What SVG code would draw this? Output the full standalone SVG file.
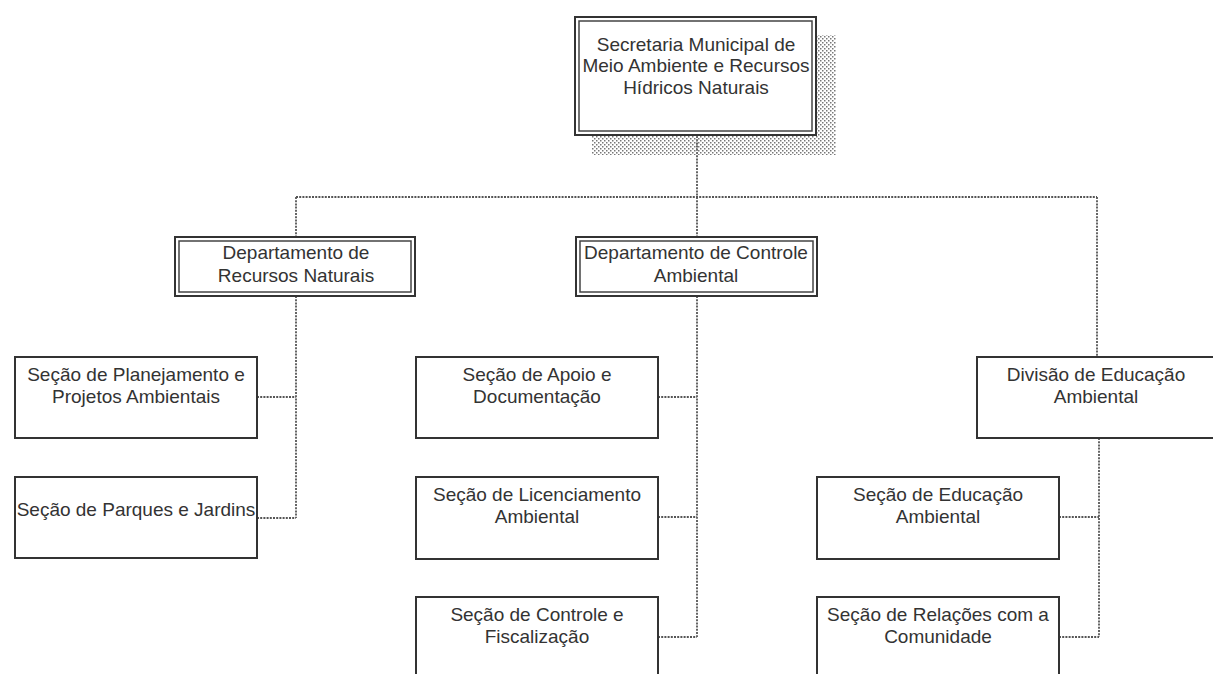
<svg xmlns="http://www.w3.org/2000/svg" width="1213" height="674" viewBox="0 0 1213 674">
  <defs>
    <pattern id="dots" width="4" height="4" patternUnits="userSpaceOnUse">
      <rect x="0" y="0" width="1.5" height="1.5" fill="#777"/>
      <rect x="2" y="2" width="1.5" height="1.5" fill="#777"/>
    </pattern>
  </defs>
  <style>
    .box { fill: #fff; stroke: #333; stroke-width: 2; }
    .inner { fill: none; stroke: #444; stroke-width: 1.5; }
    .link { fill: none; stroke: #555; stroke-width: 1.8; stroke-dasharray: 2 1.2; }
    text { font-family: "Liberation Sans", Arial, sans-serif; font-size: 19px; fill: #333; text-anchor: middle; }
  </style>
  <rect width="1213" height="674" fill="#fff"/>

  <!-- connectors -->
  <g id="connectors">
    <path class="link" d="M697,136 V197 M296,197 H1097 M296,197 V237 M697,197 V237 M1097,197 V357"/>
    <path class="link" d="M296,296 V518 M257,397 H296 M257,518 H296"/>
    <path class="link" d="M697,296 V637 M658,397 H697 M658,517 H697 M658,637 H697"/>
    <path class="link" d="M1099,438 V637 M1059,517 H1099 M1059,637 H1099"/>
  </g>

  <!-- top: secretaria, with dotted drop shadow -->
  <g id="secretaria">
    <rect x="592" y="35" width="244" height="120" fill="url(#dots)"/>
    <rect class="box" x="575" y="17" width="241" height="118"/>
    <rect class="inner" x="579" y="21" width="233" height="110"/>
    <text x="696" y="51">Secretaria Municipal de</text>
    <text x="696" y="72">Meio Ambiente e Recursos</text>
    <text x="696" y="94">Hídricos Naturais</text>
  </g>

  <!-- departments -->
  <g id="dep-recursos">
    <rect class="box" x="175" y="237" width="240" height="59"/>
    <rect class="inner" x="179" y="241" width="232" height="51"/>
    <text x="296" y="259">Departamento de</text>
    <text x="296" y="282">Recursos Naturais</text>
  </g>
  <g id="dep-controle">
    <rect class="box" x="576" y="237" width="241" height="59"/>
    <rect class="inner" x="580" y="241" width="233" height="51"/>
    <text x="696" y="259">Departamento de Controle</text>
    <text x="696" y="282">Ambiental</text>
  </g>

  <!-- sections under Recursos Naturais -->
  <g id="sec-planejamento">
    <rect class="box" x="15" y="357" width="242" height="81"/>
    <text x="136" y="381">Seção de Planejamento e</text>
    <text x="136" y="403">Projetos Ambientais</text>
  </g>
  <g id="sec-parques">
    <rect class="box" x="15" y="477" width="242" height="81"/>
    <text x="136" y="516">Seção de Parques e Jardins</text>
  </g>

  <!-- sections under Controle Ambiental -->
  <g id="sec-apoio">
    <rect class="box" x="416" y="357" width="242" height="81"/>
    <text x="537" y="381">Seção de Apoio e</text>
    <text x="537" y="403">Documentação</text>
  </g>
  <g id="sec-licenciamento">
    <rect class="box" x="416" y="477" width="242" height="82"/>
    <text x="537" y="501">Seção de Licenciamento</text>
    <text x="537" y="523">Ambiental</text>
  </g>
  <g id="sec-controle">
    <rect class="box" x="416" y="597" width="242" height="82"/>
    <text x="537" y="621">Seção de Controle e</text>
    <text x="537" y="643">Fiscalização</text>
  </g>

  <!-- division and its sections -->
  <g id="div-educacao">
    <rect class="box" x="977" y="357" width="242" height="81"/>
    <text x="1096" y="381">Divisão de Educação</text>
    <text x="1096" y="403">Ambiental</text>
  </g>
  <g id="sec-educacao">
    <rect class="box" x="817" y="477" width="242" height="82"/>
    <text x="938" y="501">Seção de Educação</text>
    <text x="938" y="523">Ambiental</text>
  </g>
  <g id="sec-relacoes">
    <rect class="box" x="817" y="597" width="242" height="82"/>
    <text x="938" y="621">Seção de Relações com a</text>
    <text x="938" y="643">Comunidade</text>
  </g>
</svg>
